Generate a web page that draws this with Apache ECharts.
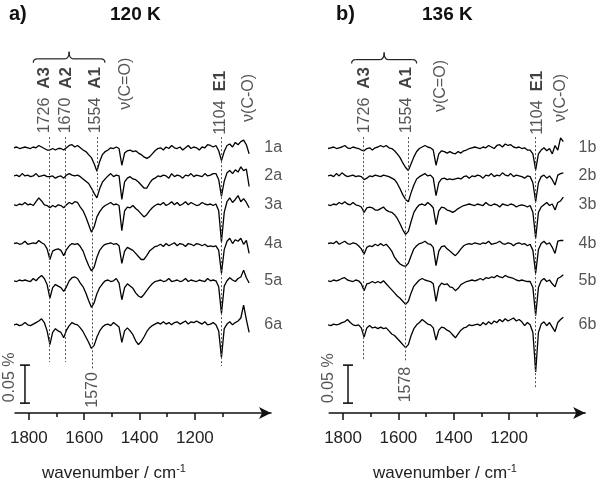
<!DOCTYPE html>
<html><head><meta charset="utf-8">
<script src="https://cdn.jsdelivr.net/npm/echarts@6/dist/echarts.min.js"></script>
<style>html,body{margin:0;padding:0;background:#fff}#c{width:600px;height:483px}</style>
</head><body><div id="c"></div>
<script>
// wavenumber grid (cm-1)
const wavenumbers = [1854,1844,1834,1824,1814,1804,1794,1784,1774,1764,1754,1744,1734,1724,1714,1704,1694,1684,1674,1664,1654,1644,1634,1624,1614,1604,1594,1584,1574,1564,1554,1544,1534,1524,1514,1504,1494,1484,1474,1464,1454,1444,1434,1424,1414,1404,1394,1384,1374,1364,1354,1344,1334,1324,1314,1304,1294,1284,1274,1264,1254,1244,1234,1224,1214,1204,1194,1184,1174,1164,1154,1144,1134,1124,1114,1104,1094,1084,1074,1064,1054,1044,1034,1024,1014,1004];

// transmittance change, units of 0.001 %  (panel a: 120 K)
const spec1a = [0,1,-1,0,1,0,-1,1,0,3,1,-1,-3,-3,-1,-3,-1,-1,-3,0,3,4,1,3,0,-3,-5,-9,-13,-21,-31,-18,-9,-5,-3,0,-1,1,-1,-23,-7,-4,-3,-5,-4,-7,-9,-12,-14,-12,-8,-4,-1,0,-3,1,-1,3,0,-1,1,-3,0,3,-1,1,0,-3,1,0,4,3,1,3,-4,-17,-5,3,5,1,7,4,8,10,4,-8];
const spec2a = [0,1,-1,3,0,1,-1,0,3,-1,0,1,-1,-1,0,-3,-1,0,-3,1,3,1,0,1,-1,-4,-7,-10,-16,-23,-29,-17,-8,-4,0,3,-1,1,0,-31,-8,-3,-1,-4,-5,-8,-12,-16,-16,-10,-5,-3,0,-1,1,0,-3,3,-1,1,0,-3,1,0,3,-1,1,0,-1,3,0,1,3,3,-5,-27,-7,4,7,3,8,5,12,7,9,-14];
const spec3a = [0,-1,1,0,3,0,1,-1,4,9,5,0,-1,-4,-1,-3,0,-1,-4,0,3,1,4,3,-3,-8,-16,-26,-36,-29,-16,-9,-4,-1,1,3,0,1,-1,-34,-8,-3,-4,-1,-5,-8,-12,-16,-13,-8,-4,-1,1,0,3,-1,1,4,0,3,-1,1,4,0,3,1,-1,0,3,1,0,1,-1,1,-8,-49,-10,4,9,3,7,12,4,8,3,-4];
const spec4a = [0,1,-1,0,3,-1,0,1,0,4,1,-1,-7,-21,-10,-8,-7,-9,-16,-8,-3,0,-1,0,-4,-10,-20,-29,-36,-31,-18,-9,-4,-1,0,1,-1,0,-3,-26,-10,-5,-7,-9,-13,-17,-21,-21,-16,-10,-7,-4,-3,-1,-4,0,-3,-1,1,-3,0,-1,-4,0,-1,-3,0,-1,-3,-1,-4,-3,-4,-3,-9,-39,-8,3,7,0,5,3,7,-1,4,-13];
const spec5a = [0,-1,1,0,1,0,-1,3,0,4,7,3,-5,-23,-9,-5,-7,-9,-14,-8,0,4,5,3,-3,-8,-16,-26,-35,-29,-17,-9,-4,0,1,-1,0,3,-3,-25,-9,-4,-7,-10,-16,-20,-22,-18,-13,-8,-4,-1,0,1,-1,0,3,-1,0,1,-1,0,3,-1,1,0,-1,1,0,-1,3,0,1,0,-8,-43,-7,0,4,1,-1,3,5,14,4,-3];
const spec6a = [0,1,-1,0,3,0,-1,1,3,5,8,3,-8,-26,-10,-5,-8,-10,-17,-7,-1,3,1,0,-4,-9,-16,-23,-31,-27,-16,-8,-3,0,1,-1,3,0,-3,-23,-8,-4,-8,-13,-21,-26,-22,-16,-9,-4,-1,1,3,1,4,1,3,0,3,4,1,3,5,1,4,3,5,3,1,4,0,1,3,0,-8,-43,-5,1,4,0,3,5,9,26,7,-10];

// panel b: 136 K
const spec1b = [-1,0,1,-1,0,1,3,0,-1,1,0,-1,-3,-4,-1,0,-3,0,1,3,1,3,0,-1,-4,-8,-13,-20,-26,-30,-21,-12,-5,-1,1,3,1,0,-3,-23,-8,-4,-5,-7,-5,-7,-8,-5,-7,-4,-3,-1,0,1,0,-1,1,0,3,1,-1,3,4,1,5,3,4,1,0,1,-1,0,-3,-3,-8,-29,-8,-3,0,-4,-1,-8,3,-3,13,8];
const spec2b = [0,1,-1,3,0,4,1,-1,0,1,-1,0,-1,-5,-3,0,-1,1,0,-1,1,0,-1,-3,-5,-10,-17,-25,-31,-34,-22,-12,-4,-1,1,3,0,1,-3,-26,-9,-4,-3,-5,-4,-5,-4,-3,-4,-1,0,-3,0,-1,1,0,-3,1,0,3,-1,1,0,4,1,0,3,-1,1,0,-1,-3,0,-1,-9,-34,-9,-1,1,-3,0,-5,-12,1,3,4];
const spec3b = [0,-1,1,0,3,1,4,1,0,3,0,-1,-3,-10,-4,-3,-4,-7,-7,-5,-3,-7,-9,-10,-13,-18,-25,-33,-39,-35,-22,-10,-4,0,1,-1,3,0,-4,-26,-8,-3,-4,-7,-8,-10,-8,-5,-3,-1,0,1,0,-1,1,0,-1,3,0,-1,1,0,-3,1,0,-1,1,0,-3,-1,0,-1,-3,-1,-10,-44,-10,-3,0,3,-1,1,-7,3,5,10];
const spec4b = [0,1,0,3,-1,1,3,0,-1,1,0,-3,-7,-14,-5,-3,-4,-1,-3,0,-3,-1,-5,-10,-18,-23,-27,-29,-30,-26,-16,-7,-3,0,1,3,0,-1,-5,-29,-10,-4,-3,-7,-10,-13,-16,-12,-7,-3,-1,0,-1,1,0,-1,1,0,3,-1,0,1,3,0,-1,1,0,-3,0,1,-1,0,-3,-1,-9,-39,-8,0,3,-1,1,-5,-13,3,4,4];
const spec5b = [0,-1,1,0,1,3,4,1,0,-1,1,0,-4,-13,-4,-3,-1,-3,-1,-3,0,-4,-8,-12,-16,-20,-23,-27,-31,-27,-16,-7,-3,1,3,1,0,-1,-4,-27,-8,-3,-5,-4,-8,-9,-13,-10,-5,-3,-1,0,1,0,1,3,1,4,3,5,4,7,5,4,7,5,4,3,1,0,1,0,-1,-1,-9,-46,-9,0,3,-1,1,-4,-8,3,5,8];
const spec6b = [0,-1,1,0,1,3,4,7,3,0,-1,0,-4,-16,-4,-1,-4,-3,-5,-3,-5,-4,-8,-12,-14,-18,-22,-26,-30,-26,-14,-5,0,3,7,4,1,0,-4,-20,-7,-3,-4,-7,-9,-13,-17,-12,-7,-4,-3,0,-1,0,1,-1,3,0,4,1,5,3,7,4,8,5,7,9,5,7,4,-1,3,0,-10,-62,-10,1,4,-1,3,-3,-9,3,7,10];

// vertical offsets of the stacked traces (0.001 %)
const offsets = [349, 312, 274, 223, 174, 116];
const namesA = ['1a','2a','3a','4a','5a','6a'];
const namesB = ['1b','2b','3b','4b','5b','6b'];

// axis ticks
const majorTicks = [1800, 1600, 1400, 1200];
const minorTicks = [1700, 1500, 1300, 1100];

// scale bar: 0.05 % = 50 units
const scaleBarX = [1814, 1782];
const scaleBarY = [13, 63];

// dotted peak markers [wavenumber, yTop, yBottom]
const peakLinesA = [[1726,363,67],[1670,363,67],[1554,363,293],[1570,293,57],[1104,363,62]];
const peakLinesB = [[1726,363,70],[1566,363,293],[1576,293,67],[1104,363,34]];

// rotated annotations [wavenumber, y, number, assignment]
const peakLabelsA = [[1743,368,'1726','A3'],[1666,368,'1670','A2'],[1559,368,'1554','A1'],[1449,399,'ν(C=O)',''],[1108,366,'1104','E1'],[1005,383,'ν(C-O)',''],[1568,7,'1570',''],[1868,14,'0.05 %','']];
const peakLabelsB = [[1723,368,'1726','A3'],[1571,368,'1554','A1'],[1446,396,'ν(C=O)',''],[1098,366,'1104','E1'],[1013,383,'ν(C-O)',''],[1573,14,'1578',''],[1851,13,'0.05 %','']];

// braces [left wavenumber, right wavenumber, y]
const braceA = [[1784, 1525, 466]];
const braceB = [[1769, 1534, 465]];

const FONT = 'Liberation Sans, Arial, Helvetica, sans-serif';
const chart = echarts.init(document.getElementById('c'), null, {renderer: 'canvas', width: 600, height: 483});

const series = [];
function panel(p, specs, names, lines, labels, sbx, brace) {
  specs.forEach((vals, k) => {
    series.push({
      type: 'line', xAxisIndex: p, yAxisIndex: p, clip: false, silent: true,
      showSymbol: false, symbol: 'none',
      data: wavenumbers.map((w, i) => [w, offsets[k] + vals[i]]),
      lineStyle: {color: '#000', width: 1.3}
    });
  });
  // scale bar
  series.push({
    type: 'line', xAxisIndex: p, yAxisIndex: p, clip: false, silent: true,
    data: [[sbx, scaleBarY[0]], [sbx, scaleBarY[1]]],
    symbol: 'rect', symbolSize: [10, 1.6], showSymbol: true,
    itemStyle: {color: '#111'}, lineStyle: {color: '#111', width: 1.5}
  });
  // rotated annotations + dotted marker lines
  series.push({
    type: 'scatter', xAxisIndex: p, yAxisIndex: p, clip: false, silent: true,
    symbolSize: 1, itemStyle: {color: 'rgba(0,0,0,0)'},
    data: labels.map(l => ({value: [l[0], l[1]], num: l[2], tag: l[3]})),
    label: {
      show: true, position: 'inside', rotate: 90, align: 'left', verticalAlign: 'middle',
      fontFamily: FONT,
      formatter: pr => pr.data.tag ? '{n|' + pr.data.num + '  }{b|' + pr.data.tag + '}' : '{n|' + pr.data.num + '}',
      rich: {
        n: {fontSize: 16, color: '#2a2a2a', fontFamily: FONT},
        b: {fontSize: 17, fontWeight: 'bold', color: '#111', fontFamily: FONT}
      }
    },
    markLine: {
      silent: true, symbol: ['none', 'none'], animation: false,
      label: {show: false},
      lineStyle: {type: [2, 2], color: '#555', width: 1},
      data: lines.map(l => [{coord: [l[0], l[1]]}, {coord: [l[0], l[2]]}])
    }
  });
  // sample labels
  series.push({
    type: 'scatter', xAxisIndex: p, yAxisIndex: p, clip: false, silent: true,
    symbolSize: 1, itemStyle: {color: 'rgba(0,0,0,0)'},
    data: names.map((n, k) => ({value: [949, offsets[k]], name: n})),
    label: {show: true, position: 'inside', align: 'left', verticalAlign: 'middle',
      formatter: '{b}', fontSize: 16, color: '#2a2a2a', fontFamily: FONT}
  });
  // brace
  series.push({
    type: 'custom', xAxisIndex: p, yAxisIndex: p, clip: false, silent: true,
    data: brace,
    renderItem: (params, api) => {
      const a = api.coord([api.value(0), api.value(2)]);
      const b = api.coord([api.value(1), api.value(2)]);
      const xl = a[0], xr = b[0], y = a[1], xm = (xl + xr) / 2;
      const drop = 4, tip = 7, r = 4;
      const st = {stroke: '#222', lineWidth: 1.2, fill: 'none'};
      return {type: 'group', children: [
        {type: 'bezierCurve', shape: {x1: xl, y1: y + drop, cpx1: xl, cpy1: y, x2: xl + r, y2: y}, style: st},
        {type: 'line', shape: {x1: xl + r, y1: y, x2: xm - r, y2: y}, style: st},
        {type: 'bezierCurve', shape: {x1: xm - r, y1: y, cpx1: xm, cpy1: y, x2: xm, y2: y - tip}, style: st},
        {type: 'bezierCurve', shape: {x1: xm, y1: y - tip, cpx1: xm, cpy1: y, x2: xm + r, y2: y}, style: st},
        {type: 'line', shape: {x1: xm + r, y1: y, x2: xr - r, y2: y}, style: st},
        {type: 'bezierCurve', shape: {x1: xr - r, y1: y, cpx1: xr, cpy1: y, x2: xr, y2: y + drop}, style: st}
      ]};
    }
  });
}
panel(0, [spec1a, spec2a, spec3a, spec4a, spec5a, spec6a], namesA, peakLinesA, peakLabelsA, scaleBarX[0], braceA);
panel(1, [spec1b, spec2b, spec3b, spec4b, spec5b, spec6b], namesB, peakLinesB, peakLabelsB, scaleBarX[1], braceB);

function mainX(g) {
  return {
    gridIndex: g, type: 'value', min: 925, max: 1850, inverse: true, position: 'bottom',
    axisLine: {show: true, onZero: false, lineStyle: {color: '#111', width: 1.5}, symbol: ['none', 'arrow'], symbolSize: [9, 12]},
    axisTick: {show: true, customValues: majorTicks, length: 7, lineStyle: {color: '#111', width: 1.5}},
    axisLabel: {show: true, customValues: majorTicks, formatter: v => String(v), fontSize: 17, color: '#222', margin: 17, fontFamily: FONT},
    splitLine: {show: false}
  };
}
function minorX(g) {
  return {
    gridIndex: g, type: 'value', min: 925, max: 1850, inverse: true, position: 'bottom',
    axisLine: {show: false, onZero: false},
    axisTick: {show: true, customValues: minorTicks, length: 4, lineStyle: {color: '#111', width: 1.5}},
    axisLabel: {show: false}, splitLine: {show: false}
  };
}
const titleStyle = (size) => ({fontSize: size, fontWeight: 'bold', color: '#111', fontFamily: FONT});
const nameStyle = {fontSize: 17, fontWeight: 'normal', color: '#222', fontFamily: FONT, lineHeight: 20,
  rich: {s: {fontSize: 11, fontWeight: 'normal', verticalAlign: 'top', lineHeight: 7, color: '#222', fontFamily: FONT}}};

chart.setOption({
  animation: false,
  backgroundColor: '#fff',
  title: [
    {text: 'a)', left: 9, top: 4, padding: 0, textStyle: titleStyle(20)},
    {text: '120 K', left: 110, top: 5, padding: 0, textStyle: titleStyle(19)},
    {text: 'b)', left: 336, top: 4, padding: 0, textStyle: titleStyle(20)},
    {text: '136 K', left: 422, top: 5, padding: 0, textStyle: titleStyle(19)},
    {text: 'wavenumber / cm{s|-1}', left: 42, top: 463, padding: 0, textStyle: nameStyle},
    {text: 'wavenumber / cm{s|-1}', left: 373, top: 463, padding: 0, textStyle: nameStyle}
  ],
  grid: [
    {left: 15, top: 40.6, width: 256, height: 372.4},
    {left: 329.2, top: 40.6, width: 256, height: 372.4}
  ],
  xAxis: [mainX(0), mainX(1), minorX(0), minorX(1)],
  yAxis: [
    {gridIndex: 0, type: 'value', min: 0, max: 490, show: false},
    {gridIndex: 1, type: 'value', min: 0, max: 490, show: false}
  ],
  series: series
});
</script></body></html>
